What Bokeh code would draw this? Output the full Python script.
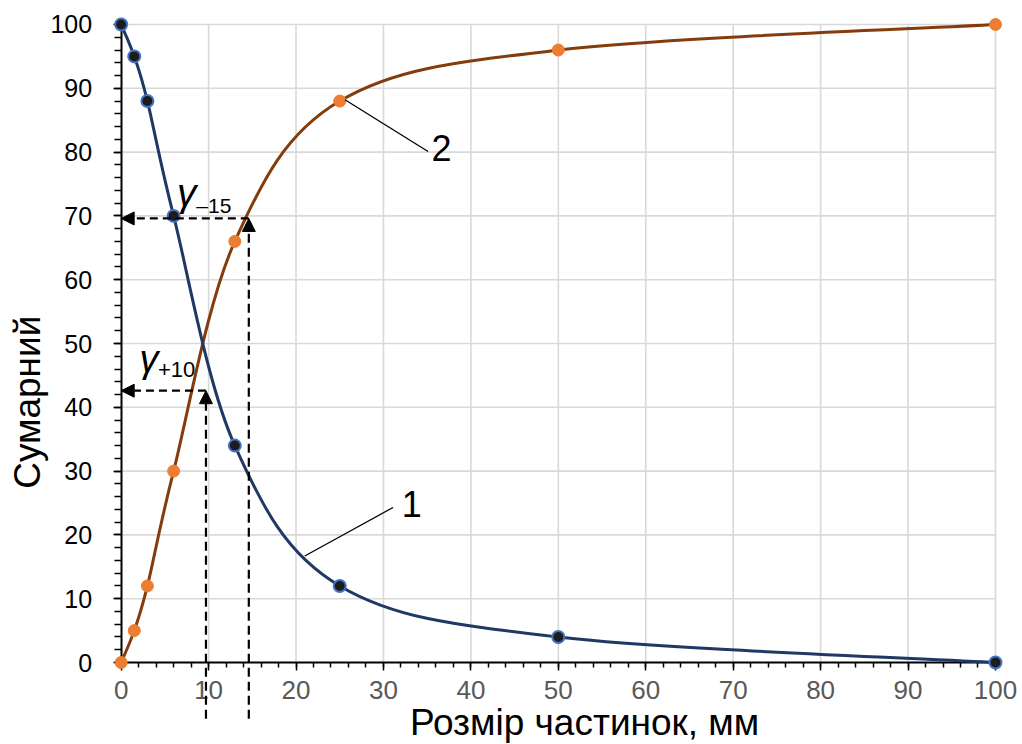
import numpy as np
from bokeh.plotting import figure
from bokeh.models import Range1d, SingleIntervalTicker, Label, Arrow, NormalHead
from bokeh.embed import file_html
from bokeh.resources import INLINE

# ---- data ----
size_mm = [0, 1.5, 3, 6, 13, 25, 50, 100]
curve1 = [100, 95, 88, 70, 34, 12, 4, 0]      # curve 1 (blue)
curve2 = [0, 5, 12, 30, 66, 88, 96, 100]      # curve 2 (orange)
tick_values = [0, 10, 20, 30, 40, 50, 60, 70, 80, 90, 100]
grid_values = [10, 20, 30, 40, 50, 60, 70, 80, 90, 100]

gamma_m15 = (14.6, 69.6)   # size at 70 % (gamma -15)
gamma_p10 = (9.7, 42.6)    # size at ~43 % (gamma +10)

FONT = "Liberation Sans"


def smooth_segments(xs, ys):
    x = np.asarray(xs, float)
    y = np.asarray(ys, float)
    n = len(x)
    xp = np.concatenate([[x[0]], x, [x[-1]]])
    yp = np.concatenate([[y[0]], y, [y[-1]]])
    cx0 = x[:-1] + (xp[2:n + 1] - xp[0:n - 1]) / 6
    cy0 = y[:-1] + (yp[2:n + 1] - yp[0:n - 1]) / 6
    cx1 = x[1:] - (xp[3:n + 2] - xp[1:n]) / 6
    cy1 = y[1:] - (yp[3:n + 2] - yp[1:n]) / 6
    return dict(x0=x[:-1], y0=y[:-1], x1=x[1:], y1=y[1:],
                cx0=cx0, cy0=cy0, cx1=cx1, cy1=cy1)


p = figure(width=1022, height=744, output_backend="svg", toolbar_location=None,
           x_range=Range1d(-13.80, 103.09), y_range=Range1d(-12.85, 103.76),
           min_border=0, min_border_left=0, min_border_right=0,
           min_border_top=0, min_border_bottom=0)
p.outline_line_color = None
p.background_fill_color = "white"
p.xgrid.visible = False
p.ygrid.visible = False

# grid lines limited to the 0..100 square
p.segment(x0=grid_values, y0=[0] * len(grid_values), x1=grid_values, y1=[100] * len(grid_values),
          line_color="#d9d9d9", line_width=1.6, level="image")
p.segment(x0=[0] * len(grid_values), y0=grid_values, x1=[100] * len(grid_values), y1=grid_values,
          line_color="#d9d9d9", line_width=1.6, level="image")

# axes
for ax in (p.xaxis, p.yaxis):
    ax.fixed_location = 0
    ax.bounds = (0, 100)
    ax.ticker = SingleIntervalTicker(interval=10, num_minor_ticks=5)
    ax.axis_line_color = "black"
    ax.axis_line_width = 2
    ax.major_tick_line_color = "black"
    ax.minor_tick_line_color = "black"
    ax.major_tick_line_width = 1.5
    ax.minor_tick_line_width = 1.5
    ax.major_tick_in = 0
    ax.minor_tick_in = 0
    ax.major_label_text_font = FONT
    ax.major_label_text_font_size = "25px"
    ax.level = "underlay"

p.xaxis.major_tick_out = 8
p.xaxis.minor_tick_out = 5
p.xaxis.major_label_text_color = "#595959"
p.xaxis.major_label_text_font_size = "26px"
p.xaxis.major_label_standoff = 10
p.yaxis.major_tick_out = 8
p.yaxis.minor_tick_out = 7
p.yaxis.major_label_text_color = "black"
p.yaxis.major_label_standoff = 21

# smooth curves
s1 = smooth_segments(size_mm, curve1)
s2 = smooth_segments(size_mm, curve2)
p.bezier(source=s2, x0="x0", y0="y0", x1="x1", y1="y1", cx0="cx0", cy0="cy0",
         cx1="cx1", cy1="cy1", line_color="#843C0C", line_width=3)
p.bezier(source=s1, x0="x0", y0="y0", x1="x1", y1="y1", cx0="cx0", cy0="cy0",
         cx1="cx1", cy1="cy1", line_color="#1F3864", line_width=3)

p.scatter(size_mm, curve2, size=12, fill_color="#ED7D31", line_color="#ED7D31", line_width=1)
p.scatter(size_mm, curve1, size=12, fill_color="#1c1c1c", line_color="#4472C4", line_width=2)

# dashed construction lines with arrows
for gx, gy in (gamma_m15, gamma_p10):
    p.add_layout(Arrow(end=NormalHead(size=13, fill_color="black", line_color="black", line_width=1),
                       x_start=gx, y_start=gy, x_end=0, y_end=gy,
                       line_color="black", line_width=2.2, line_dash="8 5"))
    p.add_layout(Arrow(end=NormalHead(size=13, fill_color="black", line_color="black", line_width=1),
                       x_start=gx, y_start=-8.8, x_end=gx, y_end=gy,
                       line_color="black", line_width=2.2, line_dash="9 5"))

# gamma labels
p.add_layout(Label(x=6.4, y=73.7, text="γ", text_font=FONT, text_font_style="italic",
                   text_font_size="39px", text_color="black", text_baseline="alphabetic"))
p.add_layout(Label(x=8.6, y=71.7, text="–15", text_font=FONT,
                   text_font_size="21px", text_color="black", text_baseline="alphabetic"))
p.add_layout(Label(x=2.1, y=47.6, text="γ", text_font=FONT, text_font_style="italic",
                   text_font_size="38px", text_color="black", text_baseline="alphabetic"))
p.add_layout(Label(x=4.2, y=45.9, text="+10", text_font=FONT,
                   text_font_size="22px", text_color="black", text_baseline="alphabetic"))

# curve number leaders
p.segment(x0=[25.6, 21.0], y0=[88.2, 16.7], x1=[35.1, 31.1], y1=[80.1, 24.3],
          line_color="black", line_width=1.3)
p.add_layout(Label(x=35.5, y=80.7, text="2", text_font=FONT, text_font_size="36px",
                   text_color="black", text_baseline="alphabetic"))
p.add_layout(Label(x=32.1, y=24.8, text="1", text_font=FONT, text_font_size="36px",
                   text_color="black", text_baseline="alphabetic"))

# axis titles
p.add_layout(Label(x=53.0, y=-9.35, text="Розмір частинок, мм", text_font=FONT,
                   text_font_size="37px", text_color="black", text_align="center",
                   text_baseline="alphabetic"))
p.add_layout(Label(x=-10.7, y=40.8, text="Сумарний", text_font=FONT,
                   text_font_size="37px", text_color="black", text_align="center",
                   text_baseline="alphabetic", angle=np.pi / 2))

open("out.html", "w").write(file_html(p, INLINE))
